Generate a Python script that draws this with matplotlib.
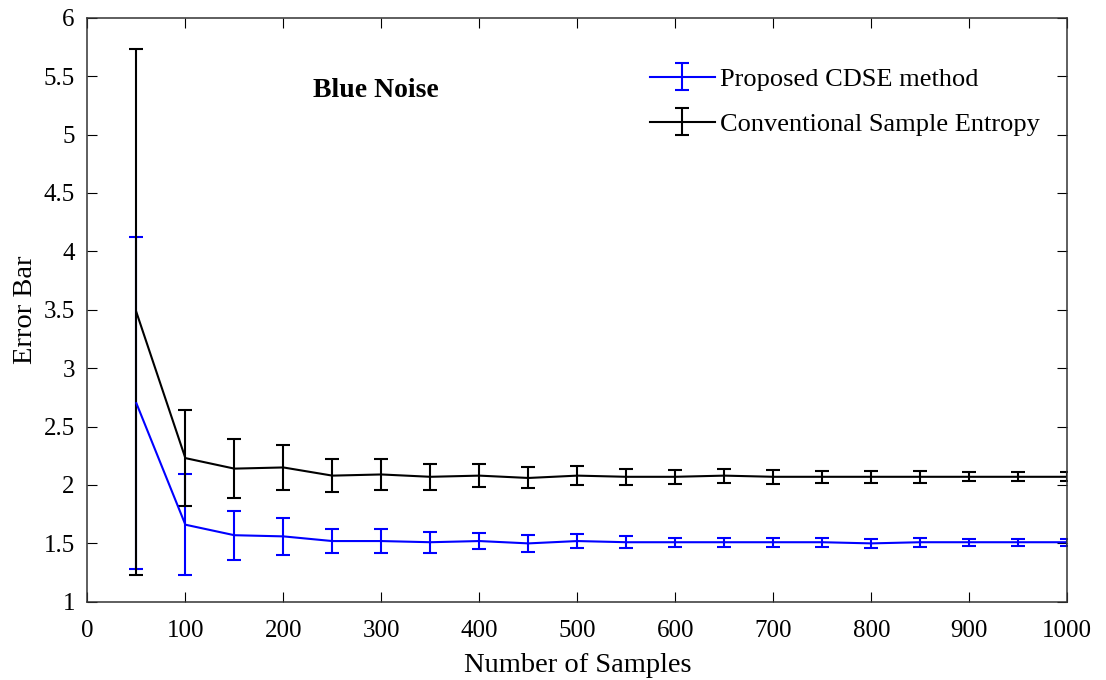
import numpy as np
import matplotlib
matplotlib.use('Agg')
import matplotlib.pyplot as plt

plt.rcParams['font.family'] = ['Liberation Serif', 'DejaVu Serif']

samples = [50, 100, 150, 200, 250, 300, 350, 400, 450, 500,
           550, 600, 650, 700, 750, 800, 850, 900, 950, 1000]

# Proposed CDSE method
cdse_mean = [2.70, 1.66, 1.57, 1.56, 1.52, 1.52, 1.51, 1.52, 1.50, 1.52,
             1.51, 1.51, 1.51, 1.51, 1.51, 1.50, 1.51, 1.51, 1.51, 1.51]
cdse_err = [1.42, 0.43, 0.21, 0.16, 0.10, 0.10, 0.09, 0.07, 0.07, 0.06,
            0.05, 0.04, 0.04, 0.04, 0.04, 0.04, 0.04, 0.03, 0.03, 0.03]

# Conventional sample entropy
se_mean = [3.48, 2.23, 2.14, 2.15, 2.08, 2.09, 2.07, 2.08, 2.06, 2.08,
           2.07, 2.07, 2.08, 2.07, 2.07, 2.07, 2.07, 2.07, 2.07, 2.07]
se_err = [2.25, 0.41, 0.25, 0.19, 0.14, 0.13, 0.11, 0.10, 0.09, 0.08,
          0.07, 0.06, 0.06, 0.06, 0.05, 0.05, 0.05, 0.04, 0.04, 0.04]

fig = plt.figure(figsize=(11.06, 6.8), dpi=100)
ax = fig.add_axes([0.079, 0.115, 0.886, 0.859])

ax.errorbar(samples, cdse_mean, yerr=cdse_err, color='blue', lw=1.5,
            elinewidth=1.5, capsize=5, capthick=1.5, label='Proposed CDSE method')
ax.errorbar(samples, se_mean, yerr=se_err, color='black', lw=1.5,
            elinewidth=1.5, capsize=5, capthick=1.5, label='Conventional Sample Entropy')

ax.set_xlim(0, 1000)
ax.set_ylim(1, 6)
ax.set_xticks(np.arange(0, 1001, 100))
ax.set_yticks(np.arange(1, 6.01, 0.5))
ax.set_yticklabels(['1', '1.5', '2', '2.5', '3', '3.5', '4', '4.5', '5', '5.5', '6'])
ax.tick_params(direction='in', top=True, right=True, labelsize=18, length=7)
ax.tick_params(axis='y', pad=9)
ax.tick_params(axis='x', pad=13)
for s in ax.spines.values():
    s.set_linewidth(1.1)
    s.set_color('#333333')

ax.set_xlabel('Number of Samples', fontsize=20.5, labelpad=8)
ax.set_ylabel('Error Bar', fontsize=20.5, labelpad=4)

ax.text(294, 5.38, 'Blue Noise', fontsize=20, fontweight='bold',
        ha='center', va='center')

ax.legend(loc='upper left', bbox_to_anchor=(0.574, 0.915), frameon=False,
          fontsize=19, handlelength=2.46, handletextpad=0.2, labelspacing=0.82,
          borderpad=0, borderaxespad=0)

fig.savefig('out.png', dpi=100)
